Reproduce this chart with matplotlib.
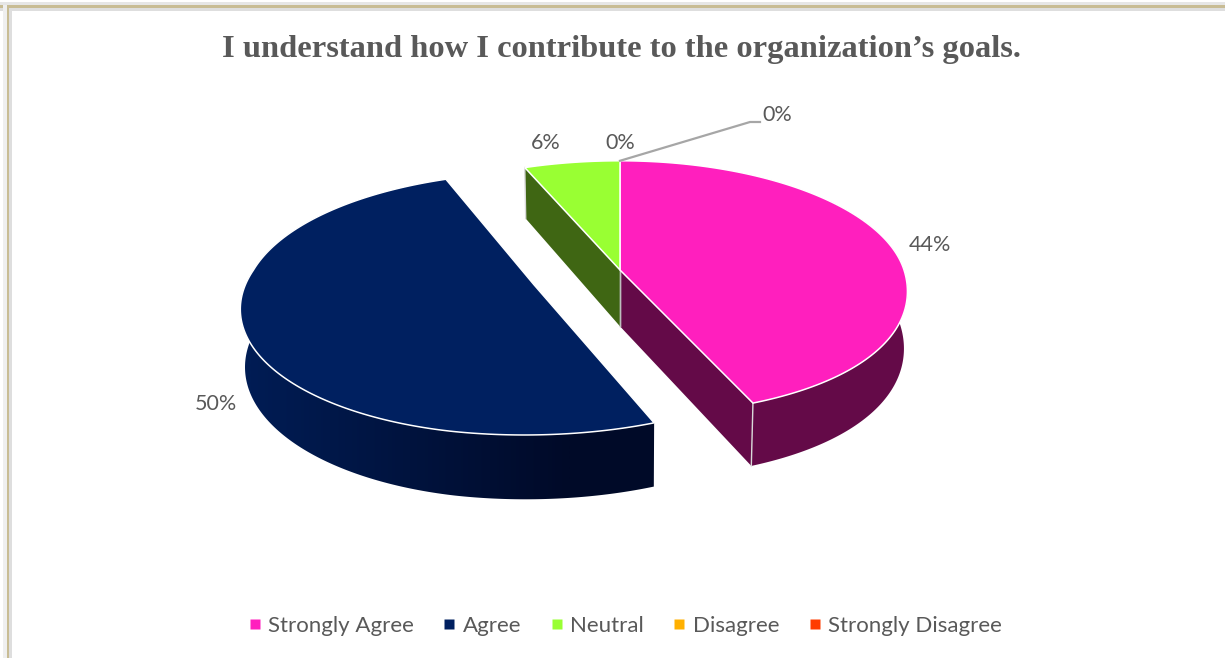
import matplotlib
matplotlib.use('Agg')
import matplotlib.pyplot as plt
import numpy as np
from matplotlib.colors import LinearSegmentedColormap
from matplotlib.lines import Line2D
from matplotlib.patches import Polygon, Rectangle

title = 'I understand how I contribute to the organization\u2019s goals.'
categories = ['Strongly Agree', 'Agree', 'Neutral', 'Disagree', 'Strongly Disagree']
shares = [44, 50, 6, 0, 0]
explode = [0, 0.32, 0, 0, 0]
top_colors = ['#ff1fbe', '#002060', '#99ff33', '#ffb000', '#ff3c00']
wall_colors = ['#640a48', '#001a50', '#3f6613', '#806000', '#801e00']

GREY = '#595959'

# pie geometry in pixels, with a small perspective term
CX, CY = 620, 270
RX, RY = 284, 124.5
DEPTH = 57
K = 0.14
TAPER = 0.012
FRONT_SKEW = 17
BACK_SKEW = 8


def project(u, v, z=0.0):
    w = 1 + K * v + TAPER * z
    x = RX * u / w
    # front right of the disc sits further out than a plain ellipse
    x = x + FRONT_SKEW * np.maximum(0, -v) ** 2 * np.maximum(0, u + 0.5)
    x = x - BACK_SKEW * np.maximum(0, v) * np.maximum(0, -u)
    return CX + x, CY - RY * v / w + DEPTH * z / w


def arc_uv(a0, a1, off):
    t = np.radians(np.linspace(a0, a1, max(int(a1 - a0) * 2, 2)))
    return np.sin(t) + off[0], np.cos(t) + off[1]


fig = plt.figure(figsize=(12.25, 6.58), dpi=100)
ax = fig.add_axes([0, 0, 1, 1])
ax.set_xlim(0, 1225)
ax.set_ylim(658, 0)
ax.axis('off')

# window frame along the top and left
ax.add_patch(Rectangle((0, 2), 1225, 3, fc='#e6e6e6', ec='none'))
ax.add_patch(Rectangle((0, 8), 1225, 2.5, fc='#dedede', ec='none'))
ax.add_patch(Rectangle((0, 5), 1225, 2.5, fc='#c8bc94', ec='none'))
ax.add_patch(Rectangle((3, 5), 4, 653, fc='#efefef', ec='none'))
ax.add_patch(Rectangle((9, 8), 2.5, 650, fc='#dedede', ec='none'))
ax.add_patch(Rectangle((7, 5), 2, 653, fc='#c8bc94', ec='none'))

ax.text(621, 50, title, ha='center', va='center', fontsize=23.4, fontweight='bold',
        family='Liberation Serif', color=GREY)

# slices, clockwise from twelve o'clock
edges = np.cumsum([0] + shares) * 3.6
navy_fade = LinearSegmentedColormap.from_list('navy_fade', ['#001c54', '#000a28'])
tops = []
for i, share in enumerate(shares):
    if share == 0:
        continue
    a0, a1 = edges[i], edges[i + 1]
    mid = np.radians((a0 + a1) / 2)
    off = (explode[i] * np.sin(mid), explode[i] * np.cos(mid))
    u, v = arc_uv(a0, a1, off)

    # outer wall, only the part that can show below the top face
    front = np.cos(np.radians(np.linspace(a0, a1, len(u)))) < 0.6
    if share > 10 and front.sum() > 1:
        x0, y0 = project(u[front], v[front])
        x1, y1 = project(u[front], v[front], 1.0)
        pts = np.r_[np.c_[x0, y0], np.c_[x1, y1][::-1]]
        if explode[i] > 0:
            # the exploded slice fades to near black towards its right end
            poly = Polygon(pts, fc='none', ec='none', zorder=2)
            ax.add_patch(poly)
            grad = ax.imshow(np.linspace(0, 1, 256)[None, :], cmap=navy_fade, aspect='auto',
                             extent=(250, 570, 658, 0), zorder=2)
            strip = ax.imshow(np.ones((1, 2)), cmap=navy_fade, vmin=0, vmax=1, aspect='auto',
                              extent=(570, 680, 658, 0), zorder=2)
            edge = ax.imshow(np.zeros((1, 2)), cmap=navy_fade, vmin=0, vmax=1, aspect='auto',
                             extent=(230, 250, 658, 0), zorder=2)
            for im in (grad, strip, edge):
                im.set_clip_path(poly)
            ax.set_xlim(0, 1225)
            ax.set_ylim(658, 0)
        else:
            ax.add_patch(Polygon(pts, fc=wall_colors[i], ec='none', zorder=2))

    # flat cut face seen from the front
    cx, cy = project(off[0], off[1])
    if explode[i] == 0:
        bx, by = project(off[0], off[1], 1.0)
        ang = np.radians(a1 if a1 < 180 else a0)
        ex, ey = project(np.sin(ang), np.cos(ang))
        fx, fy = project(np.sin(ang), np.cos(ang), 1.0)
        ax.add_patch(Polygon([(cx, cy), (ex, ey), (fx, fy), (bx, by)],
                             fc=wall_colors[i], ec='none', zorder=3))
        ax.plot([ex, fx], [ey, fy], color='#d9d9d9', lw=1, zorder=4)
        ax.plot([cx, bx], [cy, by], color='#bdbdbd', lw=1, zorder=4)

    x, y = project(u, v)
    tops.append((np.r_[[cx], x], np.r_[[cy], y], top_colors[i]))

for x, y, c in tops:
    ax.add_patch(Polygon(np.c_[x, y], closed=True, fc=c, ec='white', lw=1.1, zorder=5))

# value labels
label_pos = [(930, 245), (216, 404), (546, 143), (777, 115), (620, 143)]
for (lx, ly), share in zip(label_pos, shares):
    ax.text(lx, ly, f'{share}%', ha='center', va='center', fontsize=15.5,
            family='Lato', color=GREY, zorder=6)

# leader line for the zero slice
tx, ty = project(0, 1)
ax.plot([tx, 750, 760], [ty, 122, 122], color='#a6a6a6', lw=1.6, zorder=6)

handles = [Line2D([], [], ls='none', marker='s', ms=6.5, mfc=c, mec='none') for c in top_colors]
leg = ax.legend(handles, categories, loc='center', bbox_to_anchor=(625, 625.5),
                bbox_transform=ax.transData, ncol=5, frameon=False, handlelength=0.6,
                handletextpad=0.3, columnspacing=1.3,
                prop={'family': 'Lato', 'size': 16})
for t in leg.get_texts():
    t.set_color(GREY)

fig.savefig('out.png', dpi=100, facecolor='white')
